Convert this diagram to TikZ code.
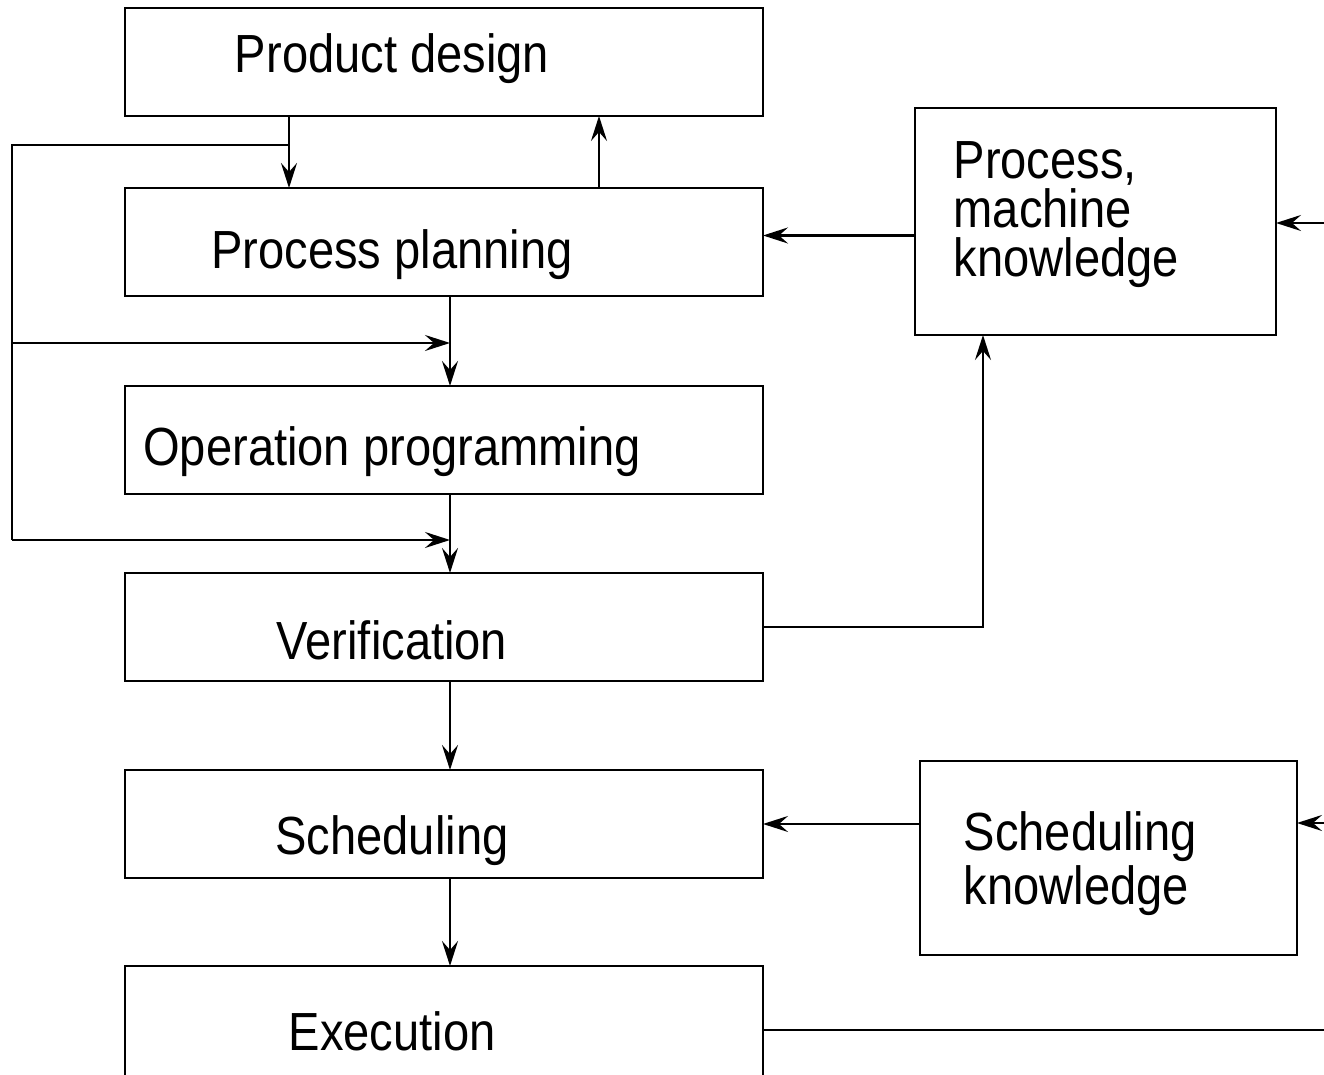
\documentclass[tikz,border=0pt]{standalone}
\usepackage{fontspec}
\setmainfont{Liberation Sans}
\usetikzlibrary{arrows.meta,positioning}
\tikzset{
    stagebox/.style={
        rectangle,
        draw=black,
        line width=0.8pt,
        minimum width=6.38cm,
        minimum height=1.08cm,
        inner sep=0pt,
        outer sep=0pt
    },
    knowbox/.style={rectangle, draw=black, line width=0.8pt, inner sep=0pt, outer sep=0pt, anchor=north west},
    boxlabel/.style={font=\fontsize{13.4}{12.2}\selectfont, inner sep=0pt, align=left, yscale=1.14, transform shape},
    line/.style={-{Stealth[length=2.5mm,width=1.6mm,inset=0.9mm]}, line width=0.7pt},
    plainline/.style={line width=0.7pt},
}
\begin{document}
\begin{tikzpicture}
    \useasboundingbox (0,0) rectangle (13.24,-10.75);

    % Main column
    \node[stagebox] (design) at (4.44,-0.62) {};
    \node[stagebox, below=0.72cm of design] (planning) {};
    \node[stagebox, below=0.90cm of planning] (programming) {};
    \node[stagebox, below=0.79cm of programming] (verification) {};
    \node[stagebox, below=0.89cm of verification] (scheduling) {};
    \node[stagebox, below=0.88cm of scheduling, minimum height=1.12cm] (execution) {};

    \node[boxlabel, anchor=base] (designtext) at ([xshift=-5.2mm,yshift=-1.1mm]design.center) {Product design};
    \node[boxlabel, anchor=base] (planningtext) at ([xshift=-5.2mm,yshift=-2.65mm]planning.center) {Process planning};
    \node[boxlabel, anchor=base] (programmingtext) at ([xshift=-5.2mm,yshift=-2.6mm]programming.center) {Operation programming};
    \node[boxlabel, anchor=base] (verificationtext) at ([xshift=-5.2mm,yshift=-3.3mm]verification.center) {Verification};
    \node[boxlabel, anchor=base] (schedulingtext) at ([xshift=-5.2mm,yshift=-3.1mm]scheduling.center) {Scheduling};
    \node[boxlabel, anchor=base] (executiontext) at ([xshift=-5.2mm,yshift=-2.9mm]execution.center) {Execution};

    % Knowledge bases
    \node[knowbox, minimum width=3.61cm, minimum height=2.27cm] (procknow) at (9.15,-1.08) {};
    \node[knowbox, minimum width=3.77cm, minimum height=1.94cm] (schedknow) at (9.20,-7.61) {};
    \node[boxlabel, anchor=north west] (procknowtext) at ([xshift=3.8mm,yshift=-3.3mm]procknow.north west) {Process,\\machine\\knowledge};
    \node[boxlabel, anchor=north west] (schedknowtext) at ([xshift=4.3mm,yshift=-5.0mm]schedknow.north west) {Scheduling\\knowledge};

    % Helper points
    \coordinate (flowx) at ([xshift=0.6mm]planning.south);
    \coordinate (fbtop) at (0.12,-1.45);
    \coordinate (fbmid) at (0.12,-3.43);
    \coordinate (fbbot) at (0.12,-5.40);
    \coordinate (plin) at ([yshift=0.65mm]planning.east);
    \coordinate (procin) at (13.24,-2.23);
    \coordinate (schedin) at (13.24,-8.23);
    \coordinate (execout) at (13.24,-10.30);

    % Design <-> planning
    \draw[line] ([xshift=-15.5mm]design.south) -- ([xshift=-15.5mm]planning.north);
    \draw[line] ([xshift=15.5mm]planning.north) -- ([xshift=15.5mm]design.south);

    % Feedback on the left
    \draw[plainline] ([xshift=-15.5mm]design.south |- fbtop) -- (fbtop) -- (fbbot);
    \draw[line] (fbmid) -- (fbmid -| flowx);
    \draw[line] (fbbot) -- (fbbot -| flowx);

    % Downward flow
    \draw[line] (flowx) -- (flowx |- programming.north);
    \draw[line] (flowx |- programming.south) -- (flowx |- verification.north);
    \draw[line] (flowx |- verification.south) -- (flowx |- scheduling.north);
    \draw[line] (flowx |- scheduling.south) -- (flowx |- execution.north);

    % Knowledge links
    \draw[line] (verification.east) -| ([xshift=-11.25mm]procknow.south);
    \draw[line] (procknow.west |- plin) -- (plin);
    \draw[line] (procin) -- (procin -| procknow.east);
    \draw[line] (schedknow.west |- scheduling.east) -- (scheduling.east);
    \draw[line] (schedin) -- (schedin -| schedknow.east);
    \draw[plainline] (execution.east |- execout) -- (execout);
\end{tikzpicture}
\end{document}
